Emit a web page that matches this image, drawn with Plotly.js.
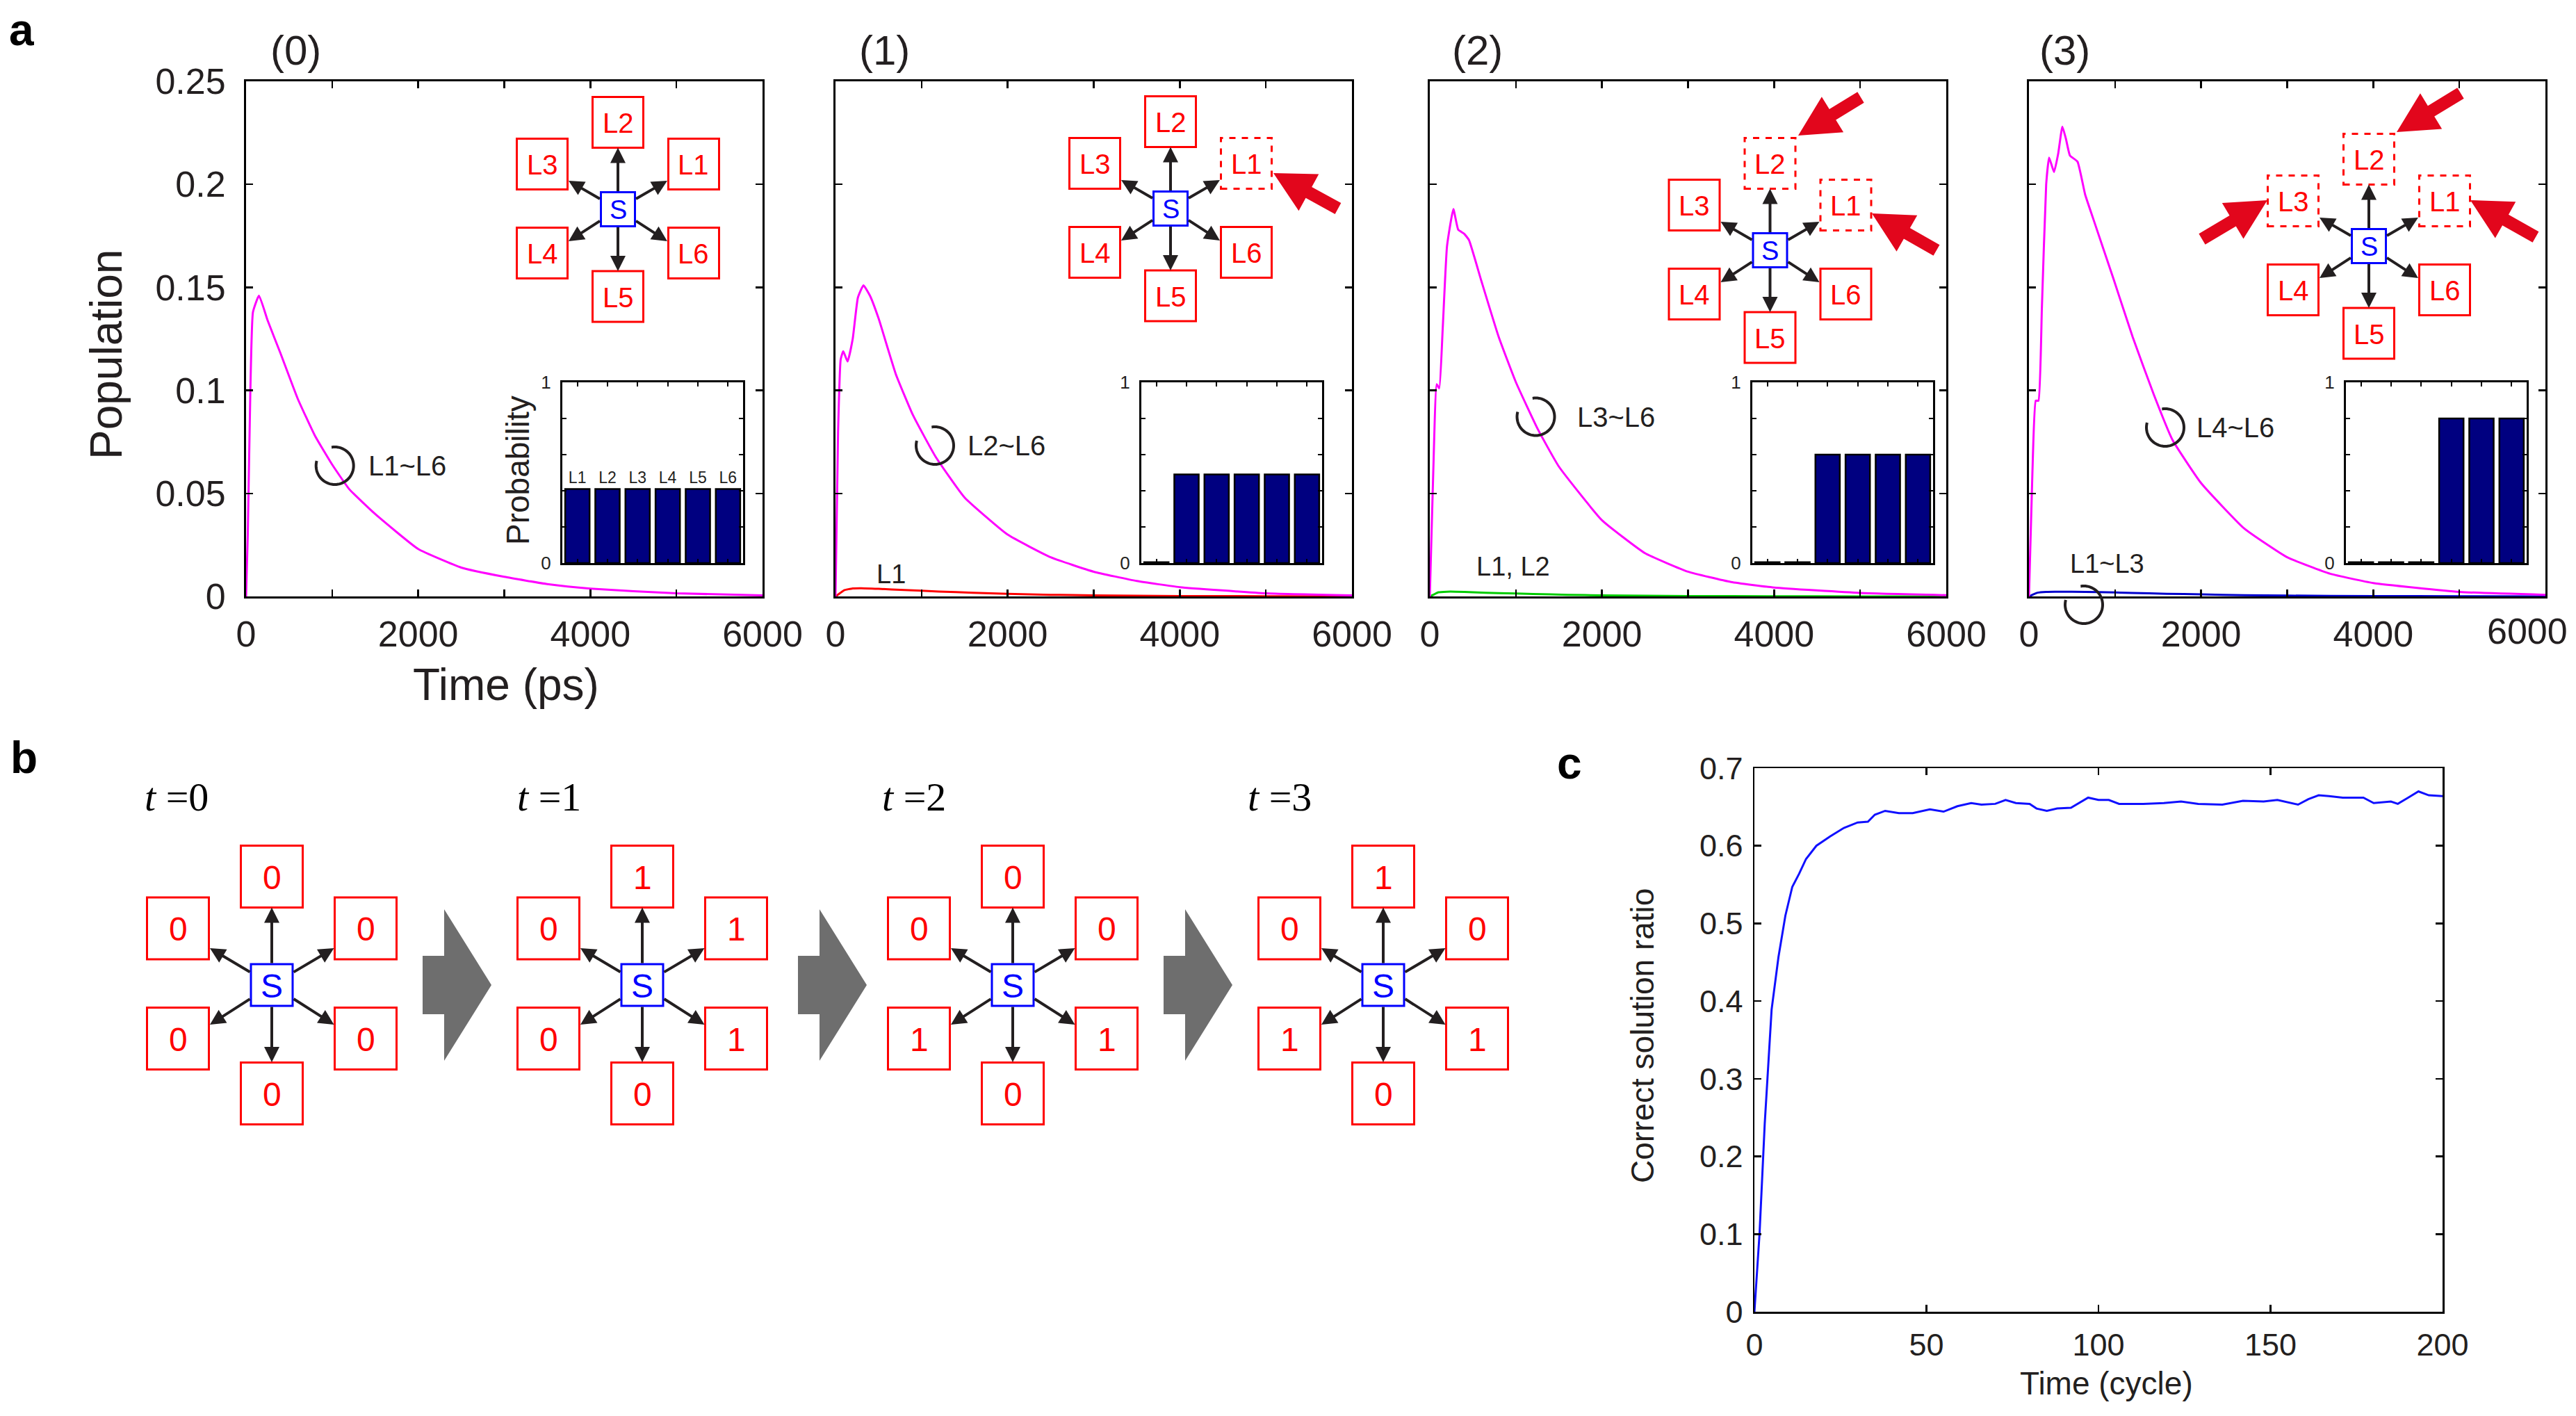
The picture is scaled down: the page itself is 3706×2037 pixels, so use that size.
<!DOCTYPE html>
<html><head><meta charset="utf-8">
<script src="https://cdn.plot.ly/plotly-3.0.1.min.js"></script>
<style>html,body{margin:0;padding:0;background:#fff}</style>
</head><body><div id="chart" style="width:3706px;height:2037px"></div>
<script>
// ---------------- DATA ----------------
const timeTicks = [0, 1000, 2000, 3000, 4000, 5000, 6000];
const timeTickText = ['0', '', '2000', '', '4000', '', '6000'];
const timeTickTextLast = ['0', '', '2000', '', '4000', '', ''];
const popTicks = [0, 0.05, 0.1, 0.15, 0.2, 0.25];
const popTickText = ['0', '0.05', '0.1', '0.15', '0.2', '0.25'];

const timeP0 = [0, 20, 50, 80, 150, 250, 400, 600, 800, 1000, 1200, 1500, 2000, 2500, 3000, 3500, 4000, 5000, 6000];
const popP0  = [0, 0.03, 0.10, 0.138, 0.146, 0.134, 0.118, 0.096, 0.078, 0.064, 0.052, 0.040, 0.023, 0.014, 0.0095, 0.006, 0.0038, 0.0015, 0.0005];

const timeP1 = [0, 30, 60, 90, 140, 200, 260, 325, 400, 500, 700, 900, 1160, 1500, 2000, 2500, 3000, 3500, 4000, 5000, 6000];
const popP1  = [0, 0.08, 0.115, 0.119, 0.114, 0.125, 0.145, 0.151, 0.146, 0.135, 0.108, 0.088, 0.068, 0.048, 0.030, 0.019, 0.012, 0.0075, 0.0045, 0.0015, 0.0005];

const timeP2 = [0, 40, 80, 110, 150, 200, 274, 330, 400, 455, 600, 800, 1000, 1257, 1500, 2000, 2500, 3000, 3500, 4000, 5000, 6000];
const popP2  = [0, 0.06, 0.103, 0.101, 0.13, 0.17, 0.188, 0.178, 0.176, 0.173, 0.153, 0.126, 0.104, 0.081, 0.063, 0.037, 0.021, 0.012, 0.007, 0.0043, 0.0017, 0.0006];

const timeP3 = [0, 40, 79, 110, 150, 200, 234, 291, 340, 388, 430, 476, 564, 653, 741, 983, 1204, 1450, 1667, 2000, 2500, 3000, 3500, 4000, 5000, 6000];
const popP3  = [0, 0.06, 0.095, 0.095, 0.14, 0.2, 0.213, 0.206, 0.215, 0.228, 0.222, 0.214, 0.211, 0.195, 0.184, 0.154, 0.126, 0.098, 0.076, 0.055, 0.033, 0.019, 0.011, 0.0065, 0.0022, 0.0008];

const timeMinor = [0, 50, 100, 200, 300, 500, 800, 1200, 1600, 2000, 2500, 3000, 4000, 5000, 6000];
const popL1P1   = [0, 0.0015, 0.003, 0.0039, 0.004, 0.0037, 0.0031, 0.0024, 0.0018, 0.0013, 0.0008, 0.0005, 0.0002, 0.0001, 0];
const popL12P2  = [0, 0.001, 0.002, 0.0023, 0.0023, 0.002, 0.0016, 0.0012, 0.0008, 0.0005, 0.0003, 0.0002, 0.0001, 0, 0];
const popL13P3  = [0, 0.001, 0.0018, 0.0022, 0.0023, 0.0023, 0.0021, 0.0017, 0.0013, 0.001, 0.0006, 0.0004, 0.0002, 0.0001, 0];

const insetCats = ['L1', 'L2', 'L3', 'L4', 'L5', 'L6'];
const probP0 = [0.41, 0.41, 0.41, 0.41, 0.41, 0.41];
const probP1 = [0.005, 0.49, 0.49, 0.49, 0.49, 0.49];
const probP2 = [0.005, 0.005, 0.60, 0.60, 0.60, 0.60];
const probP3 = [0.005, 0.005, 0.005, 0.80, 0.80, 0.80];
const probTicks = [0, 0.2, 0.4, 0.6, 0.8, 1];
const probTickText = ['0', '', '', '', '', '1'];

const panelTitles = ['(0)', '(1)', '(2)', '(3)'];
const circleLabels = ['L1~L6', 'L2~L6', 'L3~L6', 'L4~L6'];
const minorLabels = ['', 'L1', 'L1, L2', 'L1~L3'];
const dashedSets = [[], ['L1'], ['L1', 'L2'], ['L1', 'L2', 'L3']];

const stepLabels = ['0', '1', '2', '3'];
// bit states for L1..L6 at t = 0..3
const statesB = [
  [0, 0, 0, 0, 0, 0],
  [1, 1, 0, 0, 0, 1],
  [0, 0, 0, 1, 0, 1],
  [0, 1, 0, 1, 0, 1]
];

const cycles = [0, 1.5, 3, 5, 7, 9, 11, 13, 15, 18, 22, 26, 30, 33, 35, 38, 42, 46, 51, 55, 59, 63, 66, 70, 73, 76, 80, 82, 85, 88, 92, 94, 97, 100, 103, 106, 113, 119, 124, 129, 136, 142, 148, 152, 158, 161, 164, 167, 171, 177, 180, 185, 187, 190, 193, 196, 200];
const ratio  = [0, 0.101, 0.242, 0.389, 0.457, 0.510, 0.547, 0.564, 0.583, 0.600, 0.612, 0.623, 0.630, 0.631, 0.640, 0.645, 0.642, 0.642, 0.647, 0.644, 0.651, 0.655, 0.653, 0.654, 0.659, 0.655, 0.654, 0.648, 0.645, 0.648, 0.649, 0.654, 0.662, 0.659, 0.659, 0.654, 0.654, 0.655, 0.657, 0.654, 0.653, 0.658, 0.657, 0.659, 0.653, 0.660, 0.665, 0.664, 0.662, 0.662, 0.655, 0.657, 0.654, 0.662, 0.670, 0.665, 0.664];
const cycleTicks = [0, 50, 100, 150, 200];
const ratioTicks = [0, 0.1, 0.2, 0.3, 0.4, 0.5, 0.6, 0.7];
const ratioTickText = ['0', '0.1', '0.2', '0.3', '0.4', '0.5', '0.6', '0.7'];

// ---------------- LAYOUT HELPERS ----------------
const W = 3706, H = 2037;
const FONT = 'Liberation Sans, Arial, Helvetica, sans-serif';
const INK = '#231f20';
const RED = '#ff0000';
const fx = p => p / W;
const fy = p => 1 - p / H;

function ax(extra) {
  return Object.assign({
    showline: true, linecolor: '#000', linewidth: 3, mirror: 'allticks',
    ticks: 'inside', ticklen: 10, tickwidth: 2.5, tickcolor: '#000',
    showgrid: false, zeroline: false, fixedrange: true,
    tickfont: {family: FONT, size: 52, color: INK}
  }, extra);
}

const mainLeft = [354, 1202, 2057, 2919];
const mainW = 743;
const mainTop = 117, mainBottom = 858;
const insetLeft = [809, 1642, 2521, 3375];
const insetW = 260, insetTop = 550, insetBottom = 810;

const layout = {
  width: W, height: H,
  margin: {l: 0, r: 0, t: 0, b: 0, pad: 0},
  paper_bgcolor: '#fff', plot_bgcolor: 'rgba(0,0,0,0)',
  showlegend: false, bargap: 0.19,
  font: {family: FONT, color: INK},
  shapes: [], annotations: []
};

for (let i = 0; i < 4; i++) {
  const n = i + 1;
  layout['xaxis' + n] = ax({
    domain: [fx(mainLeft[i]), fx(mainLeft[i] + mainW)], anchor: 'y' + n,
    range: [0, 6000], tickvals: timeTicks, ticktext: i === 3 ? timeTickTextLast : timeTickText,
    ticklabelstandoff: 7
  });
  layout['yaxis' + n] = ax({
    domain: [fy(mainBottom), fy(mainTop)], anchor: 'x' + n,
    range: [0, 0.25], tickvals: popTicks, ticktext: popTickText,
    showticklabels: i === 0, ticklabelstandoff: 16
  });
  const m = i + 5;
  layout['xaxis' + m] = ax({
    domain: [fx(insetLeft[i]), fx(insetLeft[i] + insetW)], anchor: 'y' + m,
    type: 'category', categoryarray: insetCats, range: [-0.5, 5.5],
    showticklabels: false, ticklen: 6, tickwidth: 2, linewidth: 3
  });
  layout['yaxis' + m] = ax({
    domain: [fy(insetBottom), fy(insetTop)], anchor: 'x' + m,
    range: [0, 1], tickvals: probTicks, ticktext: probTickText,
    ticklen: 6, tickwidth: 2, linewidth: 3, ticklabelstandoff: 8,
    tickfont: {family: FONT, size: 26, color: INK}
  });
}
layout.xaxis9 = ax({
  domain: [fx(2524), fx(3514)], anchor: 'y9', range: [0, 200], tickvals: cycleTicks,
  linewidth: 2.5, tickfont: {family: FONT, size: 45, color: INK}, ticklabelstandoff: 6
});
layout.yaxis9 = ax({
  domain: [fy(1887), fy(1105)], anchor: 'x9', range: [0, 0.7], tickvals: ratioTicks, ticktext: ratioTickText,
  linewidth: 2.5, tickfont: {family: FONT, size: 45, color: INK}, ticklabelstandoff: 5
});

// ---------------- TRACES ----------------
const magenta = {color: '#ff00ff', width: 3, shape: 'spline', smoothing: 0.4};
const mainTimes = [timeP0, timeP1, timeP2, timeP3];
const mainPops = [popP0, popP1, popP2, popP3];
const minorPops = [null, popL1P1, popL12P2, popL13P3];
const minorColors = [null, '#ff0000', '#00cc00', '#0000cc'];
const probs = [probP0, probP1, probP2, probP3];
const traces = [];
for (let i = 0; i < 4; i++) {
  const n = i + 1;
  if (minorPops[i]) {
    traces.push({x: timeMinor, y: minorPops[i], xaxis: 'x' + n, yaxis: 'y' + n, mode: 'lines',
      line: {color: minorColors[i], width: 3, shape: 'spline', smoothing: 0.4}, hoverinfo: 'skip'});
  }
  traces.push({x: mainTimes[i], y: mainPops[i], xaxis: 'x' + n, yaxis: 'y' + n, mode: 'lines',
    line: magenta, hoverinfo: 'skip'});
  const bar = {type: 'bar', x: insetCats, y: probs[i], xaxis: 'x' + (i + 5), yaxis: 'y' + (i + 5),
    marker: {color: '#000080', line: {color: '#000', width: 2.5}}, hoverinfo: 'skip'};
  if (i === 0) {
    bar.text = insetCats; bar.textposition = 'outside'; bar.cliponaxis = false;
    bar.textfont = {family: FONT, size: 23, color: INK};
  }
  traces.push(bar);
}
traces.push({x: cycles, y: ratio, xaxis: 'x9', yaxis: 'y9', mode: 'lines',
  line: {color: '#1010ff', width: 3}, hoverinfo: 'skip'});

// ---------------- DECORATIONS ----------------
const S = layout.shapes, A = layout.annotations;
function txt(x, y, text, size, color, extra) {
  A.push(Object.assign({xref: 'paper', yref: 'paper', x: fx(x), y: fy(y), text: text, showarrow: false,
    xanchor: 'center', yanchor: 'middle', font: {family: FONT, size: size, color: color || INK}}, extra || {}));
}
function rect(cx, cy, half, color, width, dashed) {
  S.push({type: 'rect', xref: 'paper', yref: 'paper', layer: 'above',
    x0: fx(cx - half), x1: fx(cx + half), y0: fy(cy + half), y1: fy(cy - half),
    line: {color: color, width: width, dash: dashed ? 'dash' : 'solid'}, fillcolor: '#fff'});
}
function poly(pts, fill) {
  const d = pts.map((p, k) => (k ? 'L' : 'M') + fx(p[0]).toFixed(6) + ',' + fy(p[1]).toFixed(6)).join(' ') + ' Z';
  S.push({type: 'path', xref: 'paper', yref: 'paper', layer: 'above', path: d, fillcolor: fill, line: {width: 0}});
}
function arc(cx, cy, r, a0, a1) {
  const pts = [];
  for (let a = a0; a <= a1 + 0.01; a += 5) {
    const t = a * Math.PI / 180;
    pts.push([cx + r * Math.cos(t), cy - r * Math.sin(t)]);
  }
  const d = pts.map((p, k) => (k ? 'L' : 'M') + fx(p[0]).toFixed(6) + ',' + fy(p[1]).toFixed(6)).join(' ');
  S.push({type: 'path', xref: 'paper', yref: 'paper', layer: 'above', path: d, line: {color: INK, width: 4}});
}
function blackArrow(tail, tip, width, size) {
  A.push({xref: 'paper', yref: 'paper', x: fx(tip[0]), y: fy(tip[1]),
    axref: 'pixel', ayref: 'pixel', ax: tail[0] - tip[0], ay: tail[1] - tip[1],
    text: '', showarrow: true, arrowhead: 2, arrowsize: size, arrowwidth: width, arrowcolor: INK});
}
function redArrow(tx, ty, hx, hy) {
  const dx = hx - tx, dy = hy - ty, L = Math.hypot(dx, dy);
  const ux = dx / L, uy = dy / L, nx = -uy, ny = ux;
  const ws = 9, hl = 58, hw = 30;
  const bx = hx - ux * hl, by = hy - uy * hl;
  poly([[tx + nx * ws, ty + ny * ws], [bx + nx * ws, by + ny * ws], [bx + nx * hw, by + ny * hw], [hx, hy],
        [bx - nx * hw, by - ny * hw], [bx - nx * ws, by - ny * ws], [tx - nx * ws, ty - ny * ws]], '#e2061c');
}
function star(cx, cy, geo, labels, dashed) {
  insetCats.forEach((k, j) => {
    const o = geo.off[j], tp = geo.tip[j];
    const dx = tp[0], dy = tp[1];
    const s = Math.min(dx ? geo.sHalf / Math.abs(dx) : 1e9, dy ? geo.sHalf / Math.abs(dy) : 1e9);
    blackArrow([cx + dx * s, cy + dy * s], [cx + dx, cy + dy], 4, 1.1);
    rect(cx + o[0], cy + o[1], geo.half, RED, 3, dashed.indexOf(k) >= 0);
    txt(cx + o[0], cy + o[1] + 1, labels[j], geo.fs, RED);
  });
  rect(cx, cy, geo.sHalf, '#0000ff', 3, false);
  txt(cx, cy + 1, 'S', geo.sfs, '#0000ff');
}

const geoA = {
  half: 36.5, sHalf: 24.5, fs: 40, sfs: 38,
  off: [[109, -65], [0, -125], [-109, -65], [-109, 63], [0, 125.5], [109, 63]],
  tip: [[71, -41], [0, -88.5], [-71, -41], [-71, 46], [0, 89], [71, 46]]
};
const geoB = {
  half: 44.5, sHalf: 30, fs: 48, sfs: 48,
  off: [[135, -81.5], [0, -156], [-135, -81.5], [-135, 77], [0, 156], [135, 77]],
  tip: [[89.5, -53], [0, -111.5], [-89, -53], [-89, 57], [0, 111], [89.5, 57]]
};

// panel a decorations
const starCentersA = [[889, 301], [1684, 300], [2546.5, 360], [3408, 354]];
const titlePosA = [425, 1272, 2125, 2970];
const circlesA = [[481.7, 670], [1345, 641], [2209.5, 599.5], [3115, 615]];
const circleLabelX = [528, 1390, 2267, 3158];
const minorLabelPos = [null, [1282, 826], [2177, 815], [3031, 811]];
const redArrowsA = [[], [[1925, 300, 1832, 249]],
  [[2677, 140, 2587, 195], [2786, 360, 2693, 307]],
  [[3540, 134, 3448, 190], [3648, 341, 3554, 288], [3168, 344, 3262, 288]]];
for (let i = 0; i < 4; i++) {
  star(starCentersA[i][0], starCentersA[i][1], geoA, insetCats, dashedSets[i]);
  redArrowsA[i].forEach(r => redArrow(r[0], r[1], r[2], r[3]));
  txt(titlePosA[i], 73, panelTitles[i], 60, INK);
  arc(circlesA[i][0], circlesA[i][1], 27, 165, 460);
  txt(circleLabelX[i], circlesA[i][1], circleLabels[i], 40, INK, {xanchor: 'left'});
  if (minorLabelPos[i]) txt(minorLabelPos[i][0], minorLabelPos[i][1], minorLabels[i], 38, INK);
}
arc(2998, 870, 27, 165, 460);
// last x tick label of panel (3), pulled inside the page like the reference
txt(3636, 908, timeTickText[6], 52, INK);
txt(153, 510, 'Population', 64, INK, {textangle: -90});
txt(728, 985, 'Time (ps)', 64, INK);
txt(745, 677, 'Probability', 46, INK, {textangle: -90});

// panel b decorations
const starCentersB = [[391, 1417], [924, 1417], [1457, 1417], [1990, 1417]];
const stepLabelX = [254, 790, 1315, 1841];
const chevronX = [608, 1148, 1674];
for (let i = 0; i < 4; i++) {
  star(starCentersB[i][0], starCentersB[i][1], geoB, statesB[i].map(String), []);
  txt(stepLabelX[i], 1146, '<i>t</i> =' + stepLabels[i], 58, '#000',
    {font: {family: 'Liberation Serif, Times New Roman, serif', size: 58, color: '#000'}});
}
chevronX.forEach(x0 => {
  poly([[x0, 1375], [x0 + 31, 1375], [x0 + 31, 1308], [x0 + 99, 1417], [x0 + 31, 1526], [x0 + 31, 1459], [x0, 1459]], '#6e6e6e');
});

// panel c decorations
txt(2363, 1490, 'Correct solution ratio', 46, INK, {textangle: -90});
txt(3030, 1990, 'Time (cycle)', 46, INK);

// panel letters
const boldFont = {family: FONT, size: 64, color: '#000', weight: 'bold'};
txt(31, 43, '<b>a</b>', 64, '#000', {font: boldFont});
txt(34, 1090, '<b>b</b>', 64, '#000', {font: boldFont});
txt(2258, 1098, '<b>c</b>', 64, '#000', {font: boldFont});

Plotly.newPlot('chart', traces, layout, {displayModeBar: false, staticPlot: true});
</script>
</body></html>
